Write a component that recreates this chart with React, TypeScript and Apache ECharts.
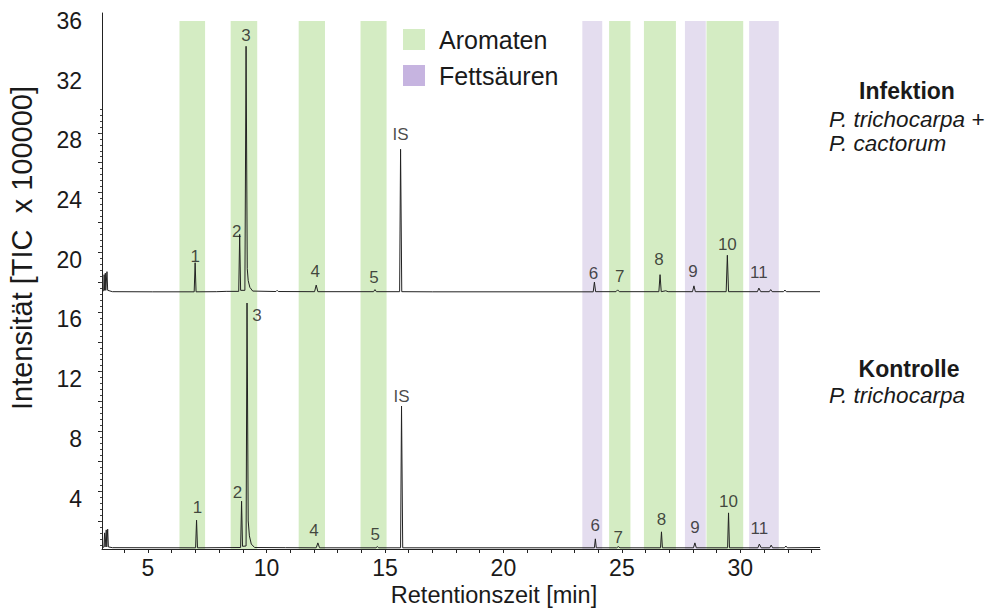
import React, { useEffect, useRef } from "react";
import * as echarts from "echarts";

const FONT = '"Liberation Sans", Arial, Helvetica, sans-serif';
const INK = "#1a1a1a";

// Axis windows: retention time [min] and intensity [TIC x 100000]
const timeWindow = [3.06, 33.36];
const intensityWindow = [0.62, 36.53];
const bandTop = 36.0;

const xTickLabels = [5, 10, 15, 20, 25, 30];
const xTicks = [4, 5, 6, 7, 8, 9, 10, 11, 12, 13, 14, 15, 16, 17, 18, 19, 20, 21, 22, 23, 24, 25, 26, 27, 28, 29, 30, 31, 32, 33];
const yTickLabels = [4, 8, 12, 16, 20, 24, 28, 32, 36];
const yMajorTicks = [2.5, 4.5, 6.5, 8.5, 10.5, 12.5, 14.5, 16.5, 18.5, 20.5, 22.5, 24.5, 26.5, 28.5];
const yMinorStep = 0.4;

// Retention-time windows of the compound classes [start, end] in min
const aromatenBands = [
  [6.33, 7.41],
  [8.49, 9.61],
  [11.36, 12.47],
  [13.97, 15.07],
  [24.46, 25.36],
  [25.93, 27.28],
  [28.57, 30.12],
];
const fettsaeurenBands = [
  [23.33, 24.17],
  [27.66, 28.54],
  [30.37, 31.62],
];

// Chromatogram, infected sample (offset trace), [time, intensity]
const infektionTrace = [
  [3.06, 17.92], [3.13, 17.92], [3.15, 19.0], [3.17, 17.95], [3.2, 19.1], [3.22, 17.95],
  [3.27, 19.2], [3.3, 17.95], [3.5, 17.86], [5.2, 17.85], [6.95, 17.85], [6.99, 19.8],
  [7.03, 17.85], [7.9, 17.86], [8.3, 17.88], [8.83, 17.88], [8.87, 21.7], [8.91, 17.95],
  [9.09, 17.95], [9.14, 34.3], [9.19, 19.4], [9.23, 18.6], [9.3, 18.15], [9.42, 17.9],
  [10.4, 17.87], [10.45, 17.95], [10.5, 17.87], [12.03, 17.86], [12.1, 18.3], [12.17, 17.86],
  [14.52, 17.86], [14.58, 18.0], [14.64, 17.86], [15.62, 17.86], [15.66, 27.4], [15.71, 17.86],
  [17.0, 17.85], [23.79, 17.85], [23.84, 18.5], [23.89, 17.86], [24.75, 17.86], [24.82, 17.98],
  [24.89, 17.86], [26.56, 17.86], [26.61, 19.0], [26.66, 17.86], [26.85, 17.92], [26.95, 17.86],
  [27.98, 17.86], [28.04, 18.25], [28.1, 17.86], [29.4, 17.86], [29.45, 20.3], [29.5, 17.86],
  [30.72, 17.86], [30.78, 18.1], [30.86, 17.86], [31.22, 17.86], [31.28, 18.0], [31.34, 17.86],
  [31.82, 17.86], [31.88, 17.97], [31.94, 17.86], [33.36, 17.86],
];

// Chromatogram, control sample, [time, intensity]
const kontrolleTrace = [
  [3.06, 0.74], [3.14, 0.74], [3.17, 1.7], [3.19, 0.76], [3.24, 1.9], [3.26, 0.76],
  [3.3, 1.95], [3.33, 0.76], [3.5, 0.71], [7.01, 0.7], [7.05, 2.55], [7.09, 0.7],
  [8.91, 0.72], [8.95, 3.82], [8.99, 0.8], [9.14, 0.82], [9.18, 17.1], [9.23, 2.5],
  [9.28, 1.5], [9.36, 0.95], [9.5, 0.72], [10.8, 0.71], [12.1, 0.7], [12.17, 1.03],
  [12.24, 0.7], [14.62, 0.7], [14.68, 0.78], [14.74, 0.7], [15.66, 0.7], [15.7, 10.2],
  [15.75, 0.7], [23.84, 0.7], [23.88, 1.3], [23.92, 0.7], [24.78, 0.7], [24.85, 0.78],
  [24.92, 0.7], [26.63, 0.7], [26.67, 1.77], [26.71, 0.7], [28.02, 0.7], [28.08, 1.03],
  [28.14, 0.7], [29.46, 0.7], [29.5, 3.04], [29.54, 0.7], [30.74, 0.7], [30.8, 0.95],
  [30.88, 0.7], [31.24, 0.7], [31.3, 0.88], [31.36, 0.7], [31.86, 0.7], [31.92, 0.82],
  [31.98, 0.7], [33.36, 0.72],
];

// Peak identifiers with apex positions
const peakIds = ["1", "2", "3", "4", "5", "IS", "6", "7", "8", "9", "10", "11"];
const infektionPeakTimes = [6.99, 8.87, 9.14, 12.1, 14.58, 15.66, 23.84, 24.82, 26.61, 28.04, 29.45, 30.78];
const infektionPeakHeights = [19.8, 21.7, 34.3, 18.3, 18.0, 27.4, 18.5, 17.98, 19.0, 18.25, 20.3, 18.1];
const kontrollePeakTimes = [7.05, 8.95, 9.18, 12.17, 14.68, 15.7, 23.88, 24.85, 26.67, 28.08, 29.5, 30.8];
const kontrollePeakHeights = [2.55, 3.82, 17.1, 1.03, 0.78, 10.2, 1.3, 0.78, 1.77, 1.03, 3.04, 0.95];

// Label nudges (px) so the numbers sit clear of neighbouring peaks
const infektionLabelShift = [[0, 5], [-3, 8], [0, 0], [-1, -3], [-1, -1], [0, -4], [-1, 2], [2, -2], [-1, -4], [-1, -3], [0, 0], [0, -5]];
const kontrolleLabelShift = [[1, -2], [-4, 2], [10, 23], [-4, -1], [-2, -1], [0, 1], [0, -2], [0, 2], [0, -1], [0, -4], [0, 0], [0, -5]];

const minorTicks = (() => {
  const out: number[] = [];
  const first = yMajorTicks[0];
  for (let k = 4; k >= 1; k--) out.push(+(first - k * yMinorStep).toFixed(2));
  yMajorTicks.forEach((m) => {
    for (let k = 0; k <= 4; k++) out.push(+(m + k * yMinorStep).toFixed(2));
  });
  return out;
})();

const bandSeries = (name: string, bands: number[][], fill: string, legendColor: string) => ({
  name,
  type: "custom",
  coordinateSystem: "cartesian2d",
  silent: true,
  z: 1,
  itemStyle: { color: legendColor },
  encode: { x: [0, 1] },
  data: bands,
  renderItem: (_params: any, api: any) => {
    const p0 = api.coord([api.value(0), bandTop]);
    const p1 = api.coord([api.value(1), intensityWindow[0]]);
    return {
      type: "rect",
      shape: { x: p0[0], y: p0[1], width: p1[0] - p0[0], height: p1[1] - p0[1] },
      style: { fill },
    };
  },
});

const traceSeries = (name: string, data: number[][]) => ({
  name,
  type: "line",
  data,
  symbol: "none",
  silent: true,
  z: 3,
  lineStyle: { color: "#222", width: 1 },
});

const peakLabelSeries = (name: string, times: number[], heights: number[], shifts: number[][]) => ({
  name,
  type: "scatter",
  silent: true,
  z: 4,
  symbolSize: 1,
  itemStyle: { color: "rgba(0,0,0,0)" },
  label: {
    show: true,
    position: "top",
    distance: 2,
    formatter: "{b}",
    fontSize: 17,
    fontFamily: FONT,
    color: INK,
    textBorderWidth: 0,
    textBorderColor: "transparent",
  },
  data: peakIds.map((id, i) => ({
    name: id,
    value: [times[i], heights[i]],
    label: { offset: shifts[i] },
  })),
});

const sampleText = (x: number, y: number, text: string, opts: any) => ({
  type: "text",
  x,
  y,
  silent: true,
  style: {
    text,
    fontFamily: FONT,
    fontSize: 22.5,
    fill: INK,
    verticalAlign: "middle",
    ...opts,
  },
});

export default function App() {
  const ref = useRef<HTMLDivElement>(null);

  useEffect(() => {
    if (!ref.current) return;
    const chart = echarts.init(ref.current, null, { renderer: "svg" });
    chart.setOption({
      animation: false,
      backgroundColor: "#ffffff",
      grid: { left: 102, right: 178, top: 13, bottom: 63, outerBoundsMode: "none" },
      legend: {
        data: ["Aromaten", "Fettsäuren"],
        orient: "vertical",
        left: 403,
        top: 27,
        padding: 0,
        icon: "rect",
        itemWidth: 22,
        itemHeight: 21,
        itemGap: 11,
        selectedMode: false,
        textStyle: { fontSize: 25, fontFamily: FONT, color: INK, padding: [0, 0, 0, 9] },
      },
      xAxis: {
        type: "value",
        min: timeWindow[0],
        max: timeWindow[1],
        axisLine: { show: true, lineStyle: { color: "#222", width: 1 } },
        axisTick: { show: true, customValues: xTicks, length: 4, lineStyle: { color: "#222" } },
        axisLabel: { customValues: xTickLabels, fontSize: 23, fontFamily: FONT, color: INK, margin: 7 },
        splitLine: { show: false },
      },
      yAxis: [
        {
          type: "value",
          min: intensityWindow[0],
          max: intensityWindow[1],
          axisLine: { show: true, lineStyle: { color: "#222", width: 1 } },
          axisTick: { show: true, customValues: yMajorTicks, length: 4, lineStyle: { color: "#222" } },
          axisLabel: { customValues: yTickLabels, fontSize: 23, fontFamily: FONT, color: INK, margin: 20 },
          splitLine: { show: false },
        },
        {
          type: "value",
          position: "left",
          min: intensityWindow[0],
          max: intensityWindow[1],
          axisLine: { show: false },
          axisTick: { show: true, customValues: minorTicks, length: 2, lineStyle: { color: "#444" } },
          axisLabel: { show: false },
          splitLine: { show: false },
        },
      ],
      series: [
        bandSeries("Aromaten", aromatenBands, "#d4ecc3", "#d4ecc3"),
        bandSeries("Fettsäuren", fettsaeurenBands, "#e4ddef", "#c6b4e0"),
        traceSeries("Infektion", infektionTrace),
        traceSeries("Kontrolle", kontrolleTrace),
        peakLabelSeries("Infektion Peaks", infektionPeakTimes, infektionPeakHeights, infektionLabelShift),
        peakLabelSeries("Kontrolle Peaks", kontrollePeakTimes, kontrollePeakHeights, kontrolleLabelShift),
      ],
      graphic: [
        {
          type: "text",
          x: 22,
          y: 248,
          rotation: Math.PI / 2,
          silent: true,
          style: {
            text: "Intensität [TIC  x 100000]",
            fontFamily: FONT,
            fontSize: 29,
            fill: INK,
            align: "center",
            verticalAlign: "middle",
          },
        },
        {
          type: "text",
          x: 494,
          y: 595,
          silent: true,
          style: {
            text: "Retentionszeit [min]",
            fontFamily: FONT,
            fontSize: 23.5,
            fill: INK,
            align: "center",
            verticalAlign: "middle",
          },
        },
        sampleText(907, 91, "Infektion", { fontWeight: "bold", fontSize: 23, align: "center" }),
        sampleText(829, 119, "P. trichocarpa +", { fontStyle: "italic", align: "left" }),
        sampleText(829, 143, "P. cactorum", { fontStyle: "italic", align: "left" }),
        sampleText(909, 369, "Kontrolle", { fontWeight: "bold", fontSize: 23, align: "center" }),
        sampleText(829, 395, "P. trichocarpa", { fontStyle: "italic", align: "left" }),
      ],
    });
    return () => chart.dispose();
  }, []);

  return (
    <div
      ref={ref}
      style={{ position: "absolute", left: 0, top: 0, width: 998, height: 612, background: "#fff" }}
    />
  );
}
